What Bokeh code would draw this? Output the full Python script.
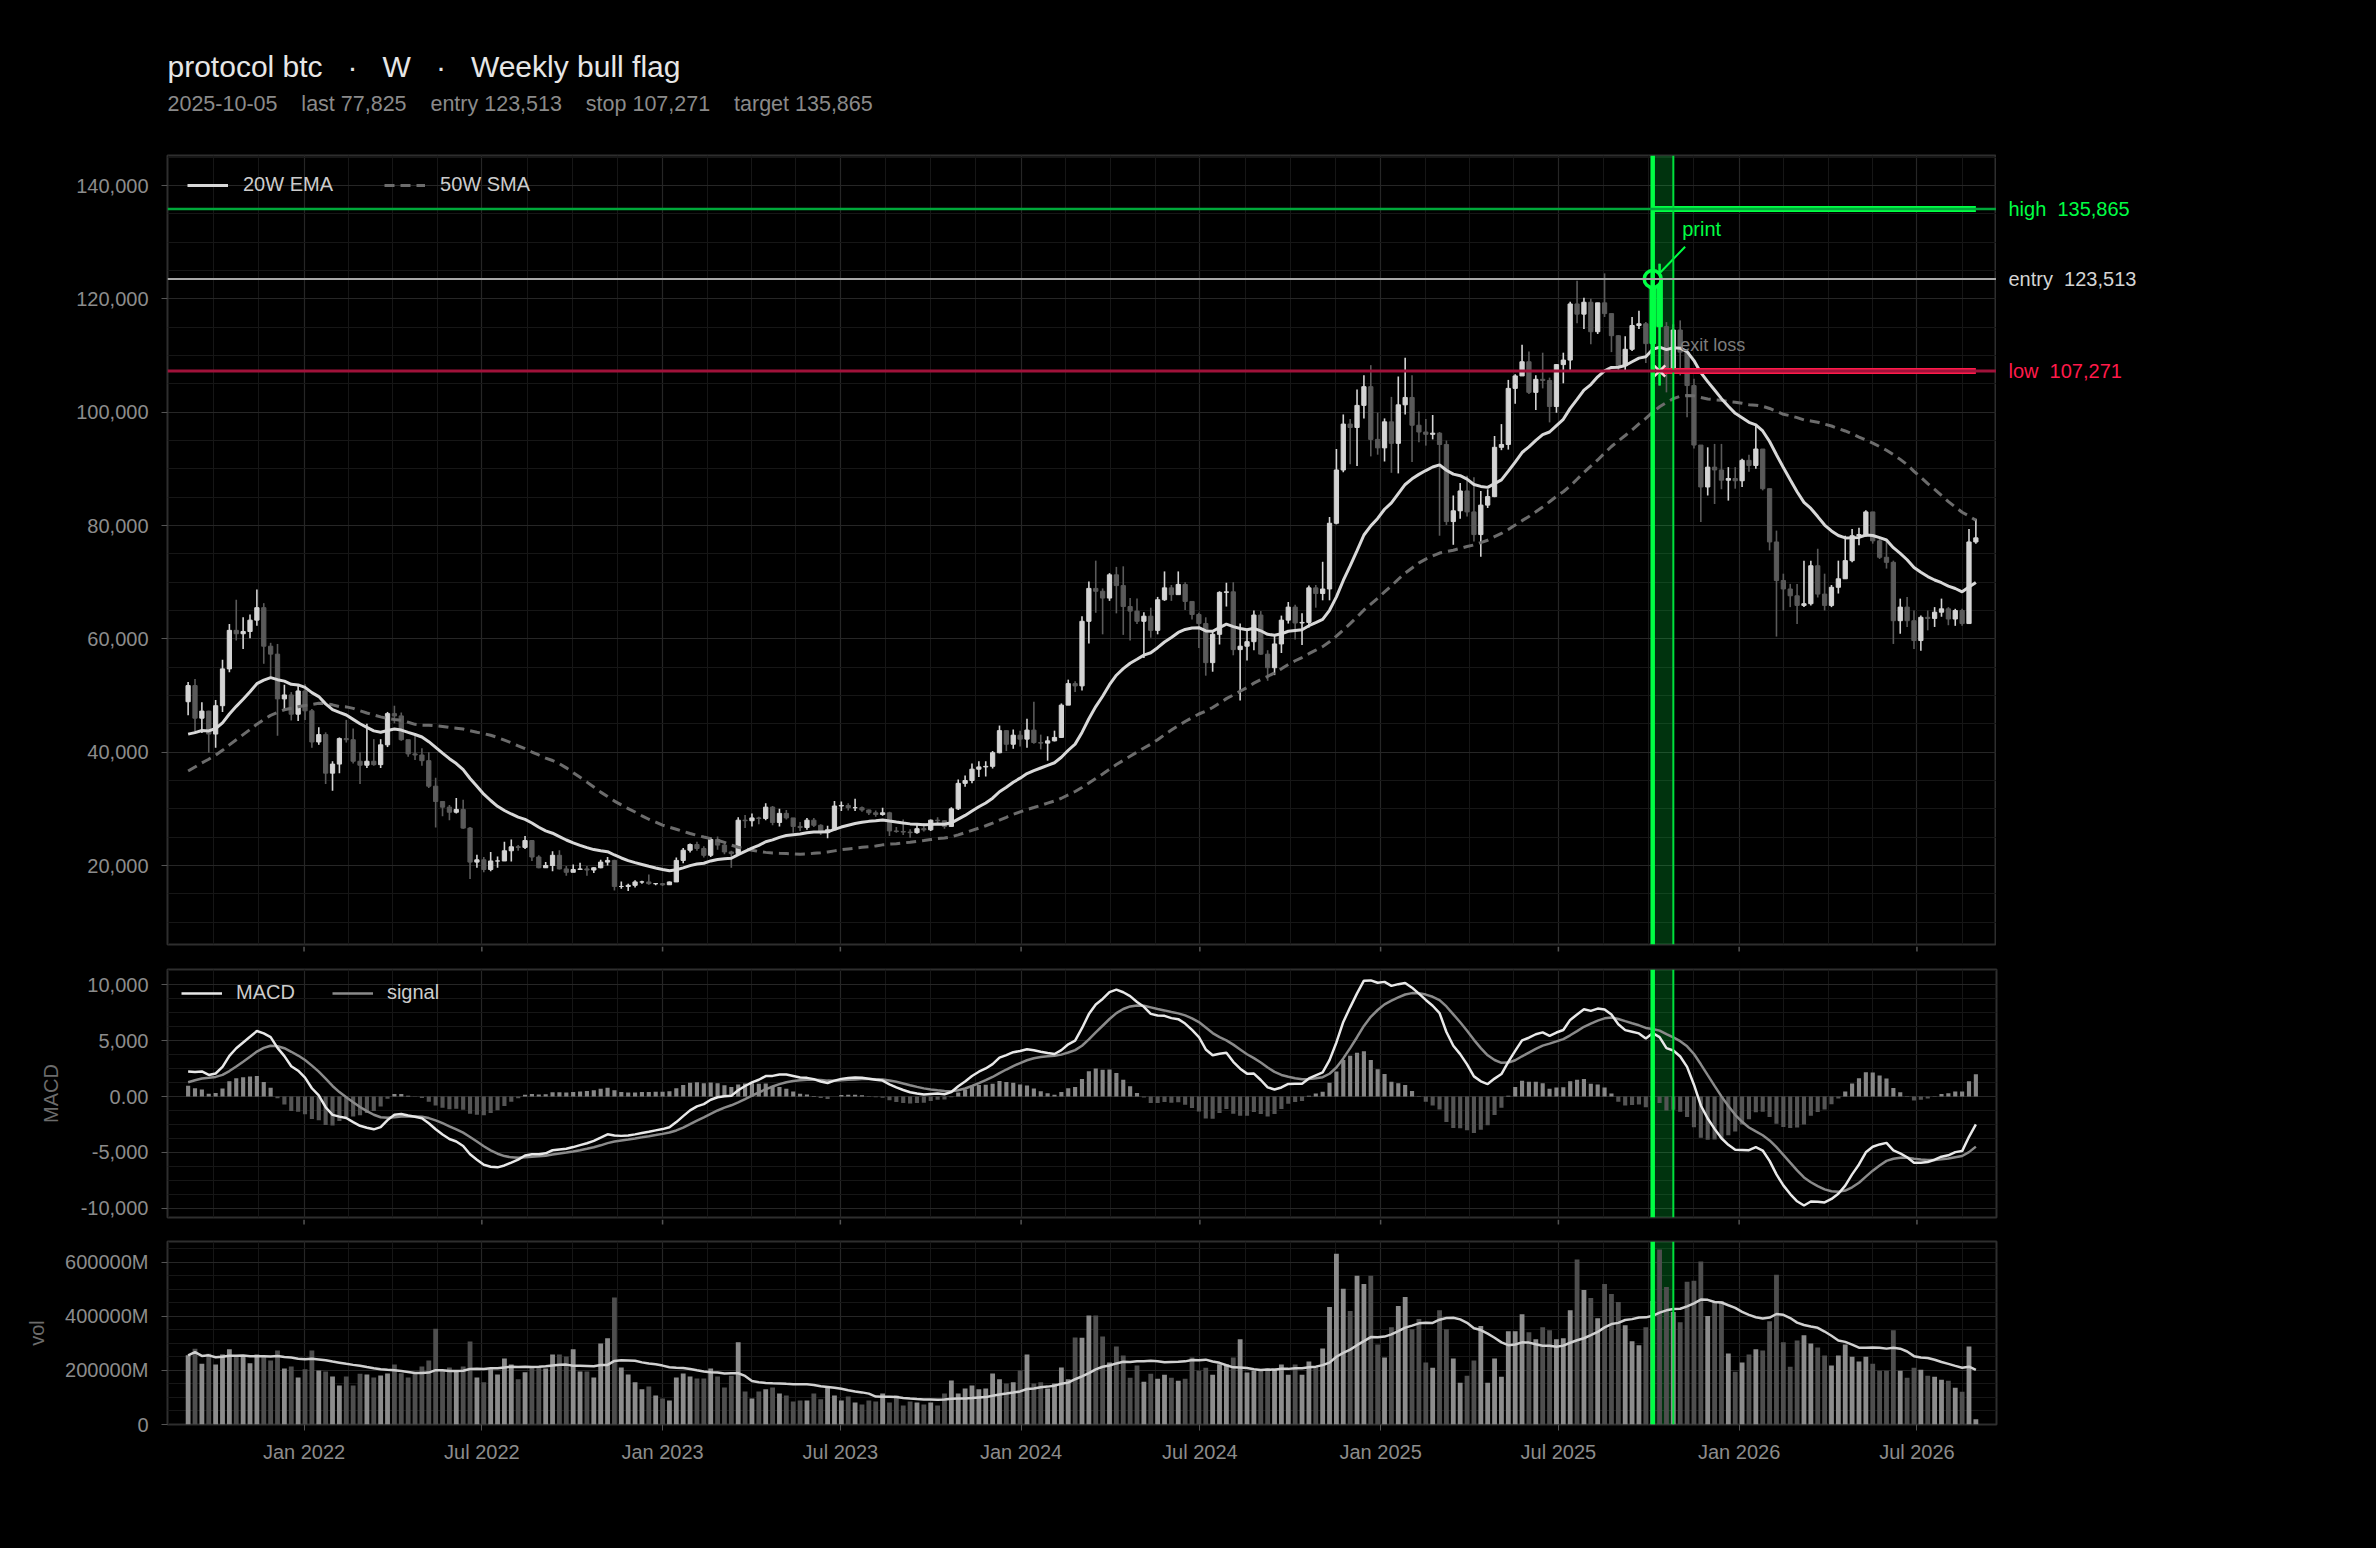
import pandas as pd
import numpy as np
from bokeh.plotting import figure
from bokeh.models import (ColumnDataSource, Range1d, Span, BoxAnnotation, Label, Legend, LegendItem,
                          NumeralTickFormatter, DatetimeTickFormatter, FixedTicker,
                          SingleIntervalTicker, PrintfTickFormatter)
from bokeh.layouts import column, row
from bokeh.embed import file_html
from bokeh.resources import INLINE
from bokeh.core.properties import value

FONT = "Liberation Sans"
BG = "#000000"

# ---------------- data ----------------
symbol = "protocol btc"
timeframe = "W"
pattern_name = "Weekly bull flag"
signal_date = "2025-10-05"
exit_date = "2025-10-12"
band_end_date = "2025-10-26"
entry_price = 123513
stop_price = 107271
target_price = 135865
last_price = 77825

first_week = "2021-09-05"
first_open = 48900

# closes of the year before the first shown week (indicator warm-up only)
warmup_close = [10280, 10680, 10920, 10780, 10680, 11380, 11500, 13030, 13740, 15480,
                15960, 18410, 18180, 19150, 19270, 23480, 26270, 33000, 38360, 35800,
                32290, 33110, 39270, 48700, 57500, 45200, 51200, 59300, 57400, 55800,
                58200, 60000, 56200, 49000, 56600, 58200, 46400, 34700, 35700, 35800,
                39100, 35600, 34700, 35300, 34200, 31800, 35400, 39900, 46300, 47000,
                49300, 48900]

close = [51750, 46000, 47250, 43200, 48200, 54700, 61500, 60900, 61300, 63300,
         65500, 58700, 57300, 49400, 50100, 46700, 50800, 47300, 41800, 43100,
         36300, 37900, 42400, 42200, 38400, 37700, 38400, 37800, 41300, 46800,
         46400, 42200, 39700, 39500, 38500, 34000, 31300, 30300, 29400, 29900,
         26600, 20600, 21000, 19300, 20800, 20800, 22600, 23300, 23200, 24400,
         21500, 19600, 20000, 21800, 19400, 18800, 19300, 19400, 19200, 19600,
         20600, 20900, 16300, 16300, 16500, 17100, 17100, 16800, 16800, 16600,
         17100, 20900, 22700, 23700, 23000, 21800, 24600, 23600, 22400, 22100,
         28000, 27900, 28400, 28300, 30300, 27600, 29200, 28400, 26900, 26700,
         28000, 27100, 25800, 26300, 30500, 30600, 30200, 30200, 29800, 29300,
         29000, 29300, 26100, 26000, 25900, 25800, 26500, 26300, 28000, 27900,
         26900, 30000, 34500, 35000, 37000, 37400, 37500, 39900, 43800, 41400,
         43000, 42300, 43900, 41700, 41600, 42000, 42600, 48300, 52100, 51700,
         63100, 68900, 68400, 67200, 71300, 69400, 65700, 64900, 63100, 64000,
         61500, 66900, 69000, 67800, 69600, 66600, 64300, 62700, 55800, 60800,
         68200, 68300, 58100, 58700, 59500, 64200, 57300, 54900, 59100, 63300,
         65600, 62800, 62900, 69000, 68000, 68800, 80400, 89800, 97900, 97300,
         101200, 104500, 95200, 93700, 98300, 94500, 101300, 102600, 97700, 96500,
         96100, 96300, 94300, 80700, 82600, 86100, 82400, 78400, 83600, 85100,
         93800, 94300, 104200, 106400, 108900, 103500, 105800, 105600, 101000, 108400,
         109200, 119100, 117300, 119400, 114200, 119300, 117400, 113500, 108200, 111100,
         115300, 115600, 112100, 123513, 115100, 107000, 114500, 110600, 104700, 94200,
         86800, 90300, 89800, 88000, 88300, 87900, 91500, 90600, 93500, 86500,
         77100, 70300, 68800, 67600, 65900, 66200, 72900, 67900, 65900, 69100,
         70600, 73800, 78200, 78400, 82400, 77300, 74400, 73500, 63200, 65600,
         63200, 59700, 63800, 63600, 64700, 65300, 63500, 65000, 62700, 77100,
         77825]

high = [52400, 52900, 48800, 47300, 49200, 56300, 62600, 66900, 63800, 64300,
        68700, 66300, 59300, 59100, 51900, 50600, 51900, 52000, 47600, 44400,
        43500, 38400, 42600, 45700, 44200, 40000, 45000, 42300, 42300, 47100,
        48200, 47000, 41500, 42900, 40700, 40000, 35500, 30900, 30700, 31900,
        31600, 26800, 21900, 21500, 22400, 21600, 24200, 24600, 23600, 25200,
        24500, 21800, 20600, 22500, 22700, 19900, 20200, 20500, 19900, 19700,
        21000, 21500, 21000, 17200, 16800, 17400, 17300, 18400, 16900, 16900,
        17200, 21400, 23100, 23900, 24200, 23400, 25000, 25100, 23900, 22600,
        28500, 28900, 29200, 28600, 31000, 30500, 30000, 29800, 28000, 27700,
        28400, 28400, 27300, 27000, 31400, 31300, 31000, 31800, 30400, 29900,
        29700, 30200, 29500, 26800, 28100, 26400, 27400, 27500, 28100, 28500,
        28000, 30300, 35200, 35900, 38000, 38400, 38400, 40200, 44700, 43800,
        44000, 43800, 45900, 48900, 43100, 42800, 43800, 48600, 52800, 52500,
        64000, 70100, 73800, 68900, 71600, 72700, 72800, 67200, 67100, 64700,
        65500, 67400, 71900, 69500, 71900, 70000, 66400, 64600, 63800, 61300,
        68400, 69900, 70000, 62700, 61800, 65000, 64900, 58000, 60600, 64100,
        66500, 66000, 64500, 69400, 69500, 73600, 81500, 93500, 99600, 98800,
        104000, 106500, 108300, 99900, 98900, 102700, 106300, 109600, 106500, 100100,
        98800, 99500, 96500, 95000, 85300, 87500, 88800, 88500, 86100, 86400,
        95800, 97900, 105700, 106700, 111900, 110700, 106500, 110500, 106100, 108500,
        110500, 119500, 123200, 120200, 120000, 119300, 124500, 117400, 113600, 113400,
        116800, 117900, 115900, 125700, 126200, 115900, 115500, 116200, 111100, 105900,
        93900, 93800, 94400, 94400, 90300, 90300, 91800, 92500, 97900, 93500,
        86500, 79100, 71500, 69700, 69700, 73800, 73800, 75900, 71500, 69500,
        73800, 78200, 79400, 79600, 82700, 82400, 77600, 77400, 73800, 67100,
        67400, 65000, 64100, 65000, 65600, 67100, 65600, 65300, 65300, 79400,
        81200]

low = [46500, 43300, 43400, 39900, 40800, 47100, 54100, 59700, 58200, 60100,
       62300, 55600, 53300, 42900, 47300, 45600, 45500, 45700, 40800, 41300,
       34400, 33200, 36300, 41700, 38000, 34400, 37200, 37600, 37200, 40900,
       45100, 42000, 39200, 38600, 37600, 33700, 26700, 28700, 28000, 29200,
       26500, 17600, 19600, 18800, 19000, 19600, 20800, 20700, 22600, 22900,
       20800, 19500, 19600, 19000, 19300, 18200, 18900, 19300, 18200, 18700,
       19500, 20000, 15600, 15900, 15500, 16100, 16800, 16600, 16500, 16400,
       16600, 17100, 20400, 22300, 22600, 21400, 21500, 22800, 22000, 19600,
       21900, 26600, 26900, 27300, 28000, 27100, 26900, 28100, 25800, 26100,
       26300, 26800, 25400, 24800, 26200, 29600, 29700, 29600, 29500, 28900,
       28600, 28800, 25200, 25800, 25400, 24900, 25600, 26000, 26100, 27300,
       26500, 26900, 29800, 33900, 34500, 35600, 35700, 37100, 39800, 40200,
       40600, 41000, 40800, 41500, 40500, 38500, 41900, 42500, 48400, 50600,
       50900, 59200, 64600, 60800, 66700, 64500, 60700, 59700, 62600, 56600,
       60200, 60800, 66700, 66700, 68400, 65100, 63400, 58400, 53500, 54200,
       59000, 65700, 57100, 49100, 56200, 58000, 57200, 52600, 53600, 57500,
       62700, 59900, 58900, 62000, 65500, 66800, 66800, 80200, 89400, 90800,
       90500, 98900, 92200, 92500, 91300, 89300, 89200, 99600, 91200, 94700,
       94100, 95200, 78200, 80100, 76600, 81200, 81600, 77200, 74500, 83100,
       85000, 93300, 93400, 101500, 106600, 103200, 100400, 104200, 98200, 99900,
       105100, 107500, 115700, 114700, 112000, 113800, 116800, 110600, 107300, 107300,
       110800, 114700, 108700, 111600, 104700, 103500, 107000, 106500, 99100, 93600,
       80600, 85300, 83800, 86400, 84400, 86500, 86800, 89500, 90000, 86200,
       75600, 60400, 65000, 65600, 62600, 65600, 65900, 67300, 65000, 65600,
       68000, 70600, 73500, 76500, 78000, 76800, 74100, 72400, 59100, 60900,
       62100, 58200, 57900, 61500, 62100, 63900, 62400, 62300, 62300, 62700,
       76800]

# weekly volume, in millions
volume_m = [256000, 280000, 225000, 262000, 222000, 259000, 278000, 256000, 256000, 227000,
            259000, 252000, 237000, 274000, 207000, 215000, 174000, 204000, 274000, 200000,
            196000, 178000, 144000, 178000, 144000, 188000, 185000, 174000, 181000, 189000,
            222000, 190000, 174000, 194000, 215000, 237000, 354000, 200000, 211000, 200000,
            215000, 307000, 174000, 156000, 204000, 185000, 244000, 222000, 167000, 193000,
            211000, 211000, 207000, 259000, 259000, 252000, 278000, 196000, 196000, 174000,
            300000, 319000, 470000, 211000, 185000, 156000, 130000, 141000, 107000, 96000,
            89000, 174000, 189000, 178000, 170000, 170000, 207000, 178000, 137000, 180000,
            304000, 122000, 96000, 122000, 130000, 137000, 115000, 107000, 85000, 89000,
            89000, 115000, 93000, 137000, 107000, 89000, 104000, 81000, 74000, 89000,
            85000, 115000, 81000, 107000, 70000, 85000, 81000, 74000, 81000, 70000,
            115000, 163000, 115000, 133000, 144000, 130000, 133000, 189000, 167000, 152000,
            156000, 200000, 259000, 152000, 156000, 133000, 152000, 211000, 167000, 322000,
            321000, 403000, 403000, 326000, 229000, 289000, 255000, 173000, 218000, 158000,
            188000, 169000, 184000, 173000, 162000, 169000, 248000, 199000, 210000, 184000,
            223000, 222000, 248000, 315000, 192000, 199000, 199000, 207000, 207000, 222000,
            184000, 222000, 184000, 233000, 214000, 281000, 435000, 632000, 502000, 420000,
            550000, 520000, 550000, 296000, 248000, 360000, 438000, 472000, 352000, 390000,
            229000, 210000, 423000, 352000, 244000, 154000, 180000, 237000, 364000, 154000,
            244000, 177000, 345000, 345000, 408000, 341000, 315000, 360000, 349000, 315000,
            319000, 423000, 610000, 498000, 468000, 393000, 520000, 483000, 453000, 367000,
            308000, 293000, 360000, 457000, 647000, 509000, 416000, 378000, 528000, 532000,
            603000, 401000, 453000, 457000, 263000, 195000, 229000, 259000, 278000, 274000,
            382000, 554000, 304000, 214000, 311000, 330000, 300000, 285000, 255000, 218000,
            255000, 296000, 251000, 233000, 251000, 225000, 199000, 199000, 349000, 199000,
            173000, 210000, 203000, 180000, 177000, 166000, 162000, 136000, 121000, 289000,
            19000]

# ---------------- derived ----------------
def ms(s):
    return pd.Timestamp(s).value / 1e6

DAY = 24 * 3600 * 1000
WEEK = 7 * DAY

dates = pd.date_range(first_week, periods=len(close), freq="7D")
x = [d.value / 1e6 for d in dates]
opens = [first_open] + close[:-1]

nw = len(warmup_close)
allc = pd.Series(warmup_close + close, dtype=float)
ema20 = allc.ewm(span=20, adjust=False).mean().iloc[nw:].tolist()
sma50 = allc.rolling(50).mean().iloc[nw:].tolist()
ema12 = allc.ewm(span=12, adjust=False).mean()
ema26 = allc.ewm(span=26, adjust=False).mean()
macd_all = ema12 - ema26
sig_all = macd_all.ewm(span=9, adjust=False).mean()
macd = macd_all.iloc[nw:].tolist()
sig = sig_all.iloc[nw:].tolist()
hist = [m - s for m, s in zip(macd, sig)]
vol_ma = pd.Series(volume_m, dtype=float).rolling(20, min_periods=1).mean().tolist()

UP, DOWN, GREEN, RED = "#d4d4d4", "#5a5a5a", "#00ff44", "#ff1a4a"
sig_i = list(dates).index(pd.Timestamp(signal_date))
exit_i = list(dates).index(pd.Timestamp(exit_date))

ccol = [UP if c >= o else DOWN for o, c in zip(opens, close)]
vcol = ["#8c8c8c" if c >= o else "#4e4e4e" for o, c in zip(opens, close)]
hcol = ["#868686" if h >= 0 else "#545454" for h in hist]

src = ColumnDataSource(dict(
    x=x, o=opens, h=high, l=low, c=close,
    top=[max(a, b) for a, b in zip(opens, close)],
    bot=[min(a, b) for a, b in zip(opens, close)],
    col=ccol, vol=volume_m, vcol=vcol, vma=vol_ma,
    ema=ema20, sma=sma50, macd=macd, sig=sig, hist=hist, hcol=hcol))

gidx = [sig_i, exit_i]
gsrc = ColumnDataSource(dict(
    x=[x[i] for i in gidx], h=[high[i] for i in gidx], l=[low[i] for i in gidx],
    top=[max(opens[i], close[i]) for i in gidx], bot=[min(opens[i], close[i]) for i in gidx]))

# ---------------- layout geometry (px) ----------------
TOTAL_W = 2370
LEFT = 167
FRAME_RIGHT = 1996
FRAME_W = FRAME_RIGHT - LEFT
RIGHT_PAD = TOTAL_W - FRAME_RIGHT
HEADER_H = 153
MAIN_FRAME_H = 789
EDGE = 2

x_range = Range1d(ms("2021-08-15"), ms("2026-09-20"))

bounds = [pd.Timestamp(f"{y}-{m:02d}-01") for y in range(2021, 2028) for m in (1, 7)]
major_t = [ms(b) for b in bounds]
minor_t = []
for a, b in zip(major_t[:-1], major_t[1:]):
    for k in range(4):
        minor_t.append(a + k * (b - a) / 4)

TICK_COL = "#8c8c8c"


def make_fig(width, height, y0, y1, top, bottom, right, yinterval, show_x):
    f = figure(width=width, height=height, x_axis_type="datetime", x_range=x_range,
               y_range=Range1d(y0, y1), output_backend="svg", toolbar_location=None,
               title=None,
               min_border_left=LEFT, min_border_right=right, min_border_top=top,
               min_border_bottom=bottom, background_fill_color=BG, border_fill_color=BG,
               outline_line_color="#2e2e2e", outline_line_width=2)
    xt = FixedTicker(ticks=major_t, minor_ticks=minor_t)
    yt = SingleIntervalTicker(interval=yinterval, num_minor_ticks=4)
    f.xaxis.ticker = xt
    f.xgrid.ticker = xt
    f.yaxis.ticker = yt
    f.ygrid.ticker = yt
    f.grid.grid_line_color = "#262626"
    f.grid.grid_line_width = 1.2
    f.grid.minor_grid_line_color = "#161616"
    f.xaxis.formatter = DatetimeTickFormatter(days="%b %Y", months="%b %Y", years="%b %Y")
    for ax in f.axis:
        ax.axis_line_color = None
        ax.major_tick_line_color = "#555555"
        ax.major_tick_out = 6
        ax.major_tick_in = 0
        ax.minor_tick_line_color = None
        ax.major_label_text_color = TICK_COL
        ax.major_label_text_font = FONT
        ax.major_label_text_font_size = "20px"
        ax.axis_label_text_font = FONT
        ax.axis_label_text_font_size = "20px"
        ax.axis_label_text_color = "#6c6c6c"
        ax.axis_label_text_font_style = "normal"
    f.yaxis.major_label_standoff = 13
    if not show_x:
        f.xaxis.visible = False
    return f


def add_band(f):
    f.add_layout(BoxAnnotation(left=ms(signal_date), right=ms(band_end_date),
                               fill_color=GREEN, fill_alpha=0.2, line_color=None,
                               level="underlay"))
    f.add_layout(Span(location=ms(signal_date), dimension="height",
                      line_color=GREEN, line_width=4.5))
    f.add_layout(Span(location=ms(band_end_date), dimension="height",
                      line_color="#00e03c", line_width=2))


def blank_fig(width, height, xr, yr, left=0, right=0, top=0, bottom=0):
    f = figure(width=width, height=height, x_range=xr, y_range=yr, output_backend="svg",
               toolbar_location=None, title=None, min_border_left=left, min_border_right=right,
               min_border_top=top, min_border_bottom=bottom, background_fill_color=BG,
               border_fill_color=BG, outline_line_color=None)
    f.axis.visible = False
    f.grid.visible = False
    return f


def tick_strip(height):
    # bottom tick marks of the panel above (date ticks without labels)
    s = blank_fig(TOTAL_W, height, x_range, Range1d(height, 0), left=LEFT, right=RIGHT_PAD)
    s.segment(x0=major_t, y0=[0] * len(major_t), x1=major_t, y1=[5] * len(major_t),
              line_color="#555555", line_width=1.5)
    return s


# ---------------- header (title + subtitle) ----------------
ph = blank_fig(TOTAL_W, HEADER_H, Range1d(0, FRAME_W), Range1d(HEADER_H, 0),
               left=LEFT, right=RIGHT_PAD)
tsep = "\u00a0\u00a0 · \u00a0\u00a0"
ph.text(x=[0], y=[66], text=[f"{symbol}{tsep}{timeframe}{tsep}{pattern_name}"],
        text_color="#e6e6e6", text_font=value(FONT), text_font_size="30px",
        text_baseline="alphabetic")
ssep = " \u00a0\u00a0\u00a0"
ph.text(x=[0], y=[103],
        text=[f"{signal_date}{ssep}last {last_price:,}{ssep}entry {entry_price:,}"
              f"{ssep}stop {stop_price:,}{ssep}target {target_price:,}"],
        text_color="#8a8a8a", text_font=value(FONT), text_font_size="21.5px",
        text_baseline="alphabetic")

# ---------------- main price panel ----------------
main_h = EDGE + MAIN_FRAME_H + EDGE
p = make_fig(FRAME_RIGHT, main_h, 6060, 145300, EDGE, EDGE, 0, 20000, False)
p.yaxis.formatter = NumeralTickFormatter(format="0,0")
add_band(p)

p.add_layout(Span(location=target_price, dimension="width", line_color="#00a83a", line_width=2.5))
p.add_layout(Span(location=entry_price, dimension="width", line_color="#a8a8a8", line_width=2))
p.add_layout(Span(location=stop_price, dimension="width", line_color="#a0123a", line_width=3))

p.segment(x0="x", y0="h", x1="x", y1="l", line_color="col", line_width=1.6, source=src)
p.vbar(x="x", width=0.62 * WEEK, top="top", bottom="bot", fill_color="col",
       line_color="col", line_width=1, source=src)

sma_r = p.line("x", "sma", source=src, line_color="#6c6c6c", line_width=3, line_dash="10 6")
ema_r = p.line("x", "ema", source=src, line_color="#d8d8d8", line_width=3)

p.segment(x0="x", y0="h", x1="x", y1="l", line_color=GREEN, line_width=2.5, source=gsrc)
p.vbar(x="x", width=0.8 * WEEK, top="top", bottom="bot", fill_color=GREEN,
       line_color=GREEN, source=gsrc)

last_x = x[-1]
p.segment(x0=[ms(signal_date)], y0=[target_price], x1=[last_x], y1=[target_price],
          line_color=GREEN, line_width=6)
p.segment(x0=[ms(exit_date) + DAY], y0=[stop_price], x1=[last_x], y1=[stop_price],
          line_color=RED, line_width=6)

# leader from the entry marker to the "print" note
p.segment(x0=[ms(signal_date) + 8 * DAY], y0=[124700], x1=[ms(signal_date) + 33 * DAY],
          y1=[129200], line_color=GREEN, line_width=2)
p.scatter([ms(signal_date)], [entry_price], marker="circle", size=17, fill_color="#000000",
          line_color=GREEN, line_width=3.5)
p.scatter([ms(exit_date)], [stop_price], marker="x", size=16, line_color="#ffd6dc", line_width=2.5)

p.add_layout(Label(x=ms(signal_date) + 30 * DAY, y=132400, text="print", text_color=GREEN,
                   text_font=FONT, text_font_size="20px", text_baseline="middle"))
p.add_layout(Label(x=ms(signal_date) + 28 * DAY, y=111800, text="exit loss", text_color="#7c7c7c",
                   text_font=FONT, text_font_size="18px", text_baseline="middle"))

leg = Legend(items=[LegendItem(label="20W EMA", renderers=[ema_r]),
                    LegendItem(label="50W SMA", renderers=[sma_r])],
             orientation="horizontal", location=(20, MAIN_FRAME_H - 30 - 11),
             background_fill_alpha=0, border_line_alpha=0, padding=0, margin=0,
             glyph_width=41, glyph_height=20, label_height=20, label_standoff=15, spacing=51,
             label_text_color="#cccccc", label_text_font=FONT, label_text_font_size="20px")
p.add_layout(leg)

# right-hand level labels, sharing the price scale
ps = blank_fig(RIGHT_PAD, main_h, Range1d(0, RIGHT_PAD), p.y_range, top=EDGE, bottom=EDGE)
ps.text(x=[12, 12, 12], y=[target_price, entry_price, stop_price],
        text=[f"high\u00a0 {target_price:,}", f"entry\u00a0 {entry_price:,}", f"low\u00a0 {stop_price:,}"],
        text_color=[GREEN, "#d4d4d4", RED], text_font=value(FONT), text_font_size="20px",
        text_baseline="middle")

strip1 = tick_strip(21)

# ---------------- MACD panel ----------------
MACD_FRAME_H = 248
p2 = make_fig(TOTAL_W, EDGE + MACD_FRAME_H + EDGE, -10805, 11341, EDGE, EDGE, RIGHT_PAD, 5000, False)
p2.yaxis.formatter = NumeralTickFormatter(format="0,0")
p2.yaxis.major_label_overrides = {0: "0.00"}
p2.yaxis.axis_label = "MACD"
p2.yaxis.axis_label_standoff = 16
add_band(p2)
p2.vbar(x="x", width=0.6 * WEEK, top="hist", bottom=0, fill_color="hcol", line_color=None, source=src)
sig_r = p2.line("x", "sig", source=src, line_color="#8a8a8a", line_width=2.5)
macd_r = p2.line("x", "macd", source=src, line_color="#e8e8e8", line_width=2.5)
leg2 = Legend(items=[LegendItem(label="MACD", renderers=[macd_r]),
                     LegendItem(label="signal", renderers=[sig_r])],
              orientation="horizontal", location=(14, MACD_FRAME_H - 24 - 11),
              background_fill_alpha=0, border_line_alpha=0, padding=0, margin=0,
              glyph_width=41, glyph_height=20, label_height=20, label_standoff=14, spacing=37,
              label_text_color="#cccccc", label_text_font=FONT, label_text_font_size="20px")
p2.add_layout(leg2)

strip2 = tick_strip(20)

# ---------------- volume panel ----------------
p3 = make_fig(TOTAL_W, EDGE + 183 + 55, 0, 677000, EDGE, 55, RIGHT_PAD, 200000, True)
p3.yaxis.formatter = PrintfTickFormatter(format="%dM")
p3.yaxis.major_label_overrides = {0: "0"}
p3.yaxis.axis_label = "vol"
p3.yaxis.axis_label_standoff = 14
p3.xaxis.major_label_standoff = 10
add_band(p3)
p3.vbar(x="x", width=0.7 * WEEK, top="vol", bottom=0, fill_color="vcol", line_color=None, source=src)
p3.line("x", "vma", source=src, line_color="#d0d0d0", line_width=2.5)

layout = column(ph, row(p, ps, spacing=0), strip1, p2, strip2, p3, spacing=0, background=BG)

html = file_html(layout, INLINE, title="protocol btc")
html = html.replace("</head>", "<style>html,body{background:#000000;}</style></head>", 1)
open("out.html", "w").write(html)
